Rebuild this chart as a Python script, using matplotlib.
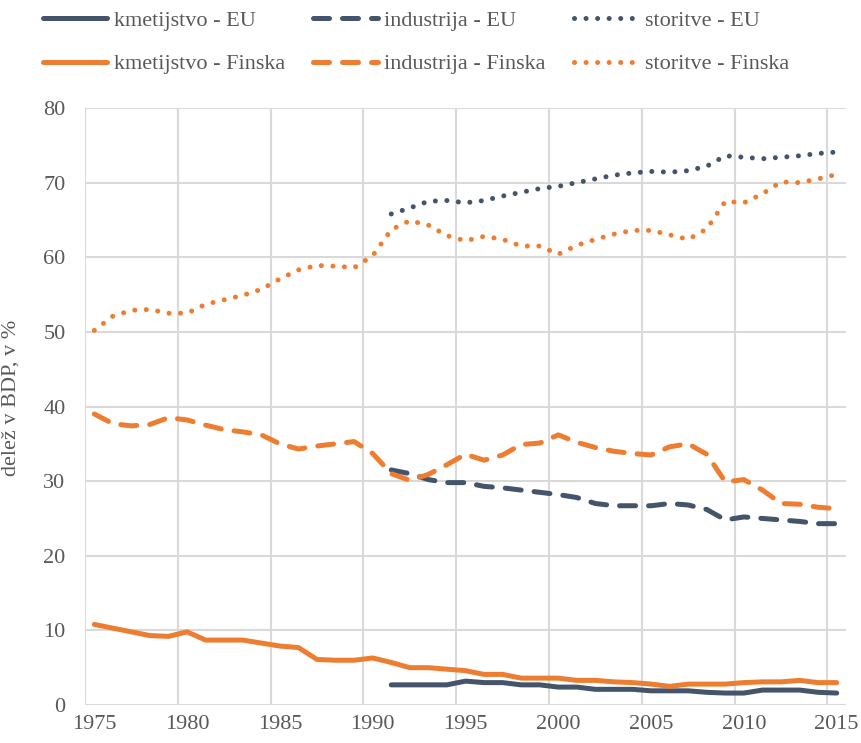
#Sector shares of GDP: EU vs Finland, 1975-2015.

import matplotlib.pyplot as plt
import numpy as np

plt.rcParams['font.family'] = ['Liberation Serif', 'DejaVu Serif']

#Years for Finland (full series) and EU (from 1991).
years_fi = list(range(1975, 2016))
years_eu = list(range(1991, 2016))

#Agriculture (kmetijstvo).
kmet_eu = [2.7, 2.7, 2.7, 2.7, 3.2, 3.0, 3.0, 2.7, 2.7, 2.4, 2.4, 2.1, 2.1,
           2.1, 1.9, 1.9, 1.9, 1.7, 1.6, 1.6, 2.0, 2.0, 2.0, 1.7, 1.6]
kmet_fi = [10.8, 10.3, 9.8, 9.3, 9.2, 9.8, 8.7, 8.7, 8.7, 8.3, 7.9, 7.7, 6.1,
           6.0, 6.0, 6.3, 5.7, 5.0, 5.0, 4.8, 4.6, 4.1, 4.1, 3.6, 3.6, 3.6,
           3.3, 3.3, 3.1, 3.0, 2.8, 2.5, 2.8, 2.8, 2.8, 3.0, 3.1, 3.1, 3.3,
           3.0, 3.0]

#Industry (industrija).
ind_eu = [31.5, 31.0, 30.2, 29.8, 29.8, 29.3, 29.1, 28.8, 28.5, 28.2, 27.8,
          27.0, 26.7, 26.7, 26.7, 27.0, 26.8, 26.2, 24.8, 25.2, 25.0, 24.8,
          24.6, 24.3, 24.3]
ind_fi = [39.0, 37.7, 37.4, 37.6, 38.5, 38.2, 37.5, 36.9, 36.6, 36.2, 35.0,
          34.3, 34.7, 35.0, 35.3, 33.7, 31.0, 30.1, 30.9, 32.2, 33.6, 32.8,
          33.5, 34.9, 35.1, 36.2, 35.2, 34.5, 34.0, 33.7, 33.5, 34.6, 35.0,
          33.6, 29.9, 30.2, 28.8, 27.0, 26.9, 26.5, 26.3]

#Services (storitve).
stor_eu = [65.8, 66.6, 67.5, 67.6, 67.3, 67.6, 68.2, 68.7, 69.2, 69.5, 70.0,
           70.5, 71.0, 71.3, 71.5, 71.4, 71.6, 72.2, 73.6, 73.4, 73.2, 73.4,
           73.6, 73.9, 74.1]
stor_fi = [50.2, 52.1, 52.9, 53.0, 52.5, 52.5, 53.7, 54.3, 54.9, 55.7, 57.1,
           58.3, 58.9, 58.8, 58.6, 60.2, 63.7, 64.9, 64.3, 62.9, 62.2, 62.8,
           62.4, 61.5, 61.5, 60.4, 61.6, 62.4, 63.1, 63.6, 63.6, 63.0, 62.4,
           63.8, 67.5, 67.3, 68.5, 70.1, 70.0, 70.5, 71.1]

navy = '#44546A'
orange = '#ED7D31'
grey_txt = '#595959'
dash = (0, (3.2, 2.6))
dot = (0, (0.01, 2.3))

fig = plt.figure(figsize=(8.62, 7.43), dpi=100)
ax = fig.add_axes([85/862, 1 - 705/743, 761/862, 597/743])

lw = 3.6
ax.plot(years_eu, kmet_eu, color=navy, lw=lw, solid_capstyle='round',
        solid_joinstyle='round', label='kmetijstvo - EU')
ax.plot(years_fi, kmet_fi, color=orange, lw=lw, solid_capstyle='round',
        solid_joinstyle='round', label='kmetijstvo - Finska')
ax.plot(years_eu, ind_eu, color=navy, lw=lw, ls=dash, dash_capstyle='round',
        label='industrija - EU')
ax.plot(years_fi, ind_fi, color=orange, lw=lw, ls=dash, dash_capstyle='round',
        label='industrija - Finska')
ax.plot(years_eu, stor_eu, color=navy, lw=3.6, ls=dot, dash_capstyle='round',
        label='storitve - EU')
ax.plot(years_fi, stor_fi, color=orange, lw=3.6, ls=dot, dash_capstyle='round',
        label='storitve - Finska')

#Category-style axis: gridlines between years, labels on years.
ax.set_xlim(1974.5, 2015.5)
ax.set_ylim(0, 80)
ax.set_xticks(range(1975, 2016, 5))
ax.set_xticks(np.arange(1974.5, 2015, 5), minor=True)
ax.set_yticks(range(0, 81, 10))
ax.grid(which='minor', axis='x', color='#D9D9D9', lw=1.5)
ax.grid(which='major', axis='y', color='#D9D9D9', lw=1.5)
ax.set_axisbelow(True)
for s in ax.spines.values():
    s.set_visible(False)
ax.tick_params(which='both', length=0)
ax.tick_params(axis='x', labelsize=16, labelcolor=grey_txt, pad=7)
ax.tick_params(axis='y', labelsize=16, labelcolor=grey_txt, pad=14)
ax.set_ylabel("delež v BDP, v %", fontsize=16, color=grey_txt)
ax.yaxis.set_label_coords(-0.085, 0.515)

fig.legend(loc='upper left', bbox_to_anchor=(43/862, 1 - 10/743), ncol=3,
           frameon=False, fontsize=16, labelcolor=grey_txt, handlelength=2.9,
           handletextpad=0.3, columnspacing=1.25, labelspacing=1.05,
           borderaxespad=0, borderpad=0)

plt.savefig('out.png', dpi=100)
